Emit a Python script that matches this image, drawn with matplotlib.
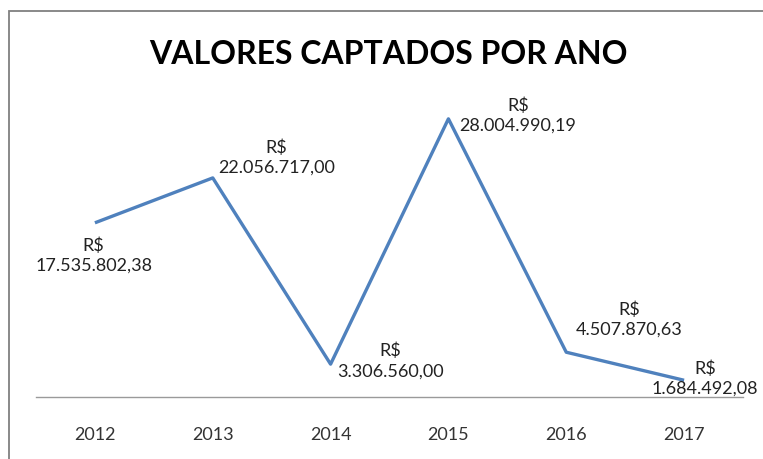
import matplotlib
matplotlib.use("Agg")
import matplotlib.pyplot as plt
from matplotlib.patches import Rectangle

plt.rcParams["font.family"] = ["Lato", "DejaVu Sans"]

anos = ["2012", "2013", "2014", "2015", "2016", "2017"]
valores = [17535802.38, 22056717.00, 3306560.00, 28004990.19, 4507870.63, 1684492.08]
rotulos = ["17.535.802,38", "22.056.717,00", "3.306.560,00",
           "28.004.990,19", "4.507.870,63", "1.684.492,08"]

# label offsets (points) relative to each data point
offsets = [(-1, -23), (46, 15.5), (43, 3), (50, 3), (45, 24), (15, 2)]

W, H = 763, 460
fig = plt.figure(figsize=(W / 100, H / 100), dpi=100, facecolor="white")
ax = fig.add_axes([36 / W, (H - 398) / H, (743 - 36) / W, (398 - 100) / H])

x = list(range(len(anos)))
ax.plot(x, valores, color="#4F81BD", linewidth=2.4, solid_capstyle="butt")

ax.set_xlim(-0.5, len(anos) - 0.5)
ax.set_ylim(0, 30000000)
ax.set_xticks(x)
ax.set_xticklabels(anos, fontsize=13, color="#333333")
ax.tick_params(axis="x", length=0, pad=21)
ax.set_yticks([])
for s in ["top", "right", "left"]:
    ax.spines[s].set_visible(False)
ax.spines["bottom"].set_color("#9a9a9a")
ax.spines["bottom"].set_linewidth(1.0)
ax.patch.set_alpha(0)

for xi, v, r, off in zip(x, valores, rotulos, offsets):
    ax.annotate("R$\n" + r, (xi, v), xytext=off, textcoords="offset points",
                ha="center", va="center", multialignment="center",
                fontsize=13, color="#222222", linespacing=1.3,
                annotation_clip=False)

fig.text(388 / W, (H - 55) / H, "VALORES CAPTADOS POR ANO", ha="center", va="center",
         fontsize=23, fontweight="bold", color="black")

fig.patches.append(Rectangle((9 / W, -0.1), 1.2, (H - 12) / H + 0.1,
                             transform=fig.transFigure, fill=False,
                             edgecolor="#808080", linewidth=1.3))

fig.savefig("out.png", dpi=100, facecolor="white")
